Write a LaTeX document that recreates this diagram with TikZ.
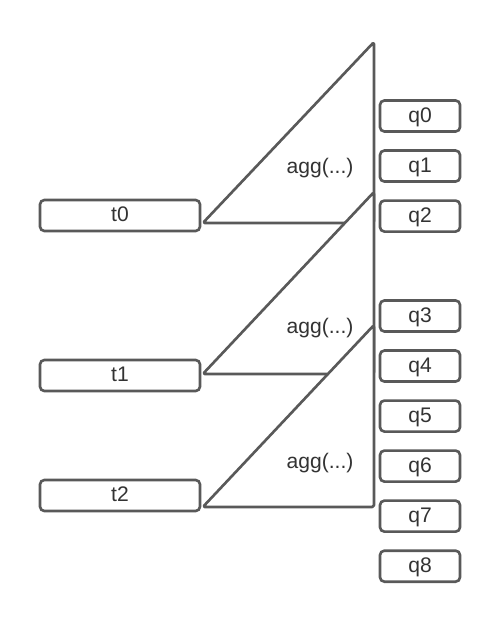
\documentclass[tikz,border=0pt]{standalone}
\usepackage{fontspec}
\setmainfont{Liberation Sans}
\usetikzlibrary{positioning,calc}
\definecolor{linegray}{HTML}{595959}
\definecolor{textgray}{HTML}{333333}
\begin{document}
\begin{tikzpicture}[
    node distance=0.328cm,
    tbox/.style={rectangle, rounded corners=2.5pt, draw=linegray, line width=1.5pt, minimum width=3.2cm, minimum height=0.62cm, inner sep=0pt, text height=0.72em, text depth=0pt, text=textgray, font=\fontsize{12}{14}\selectfont},
    qbox/.style={tbox, minimum width=1.6cm},
    aggtri/.style={draw=linegray, fill=white, line width=1.5pt, rounded corners=1pt, line join=round},
    agglabel/.style={font=\fontsize{12}{14}\selectfont, text=textgray}
]

% Canvas
\useasboundingbox (0,0) rectangle (10,-12.44);

% Inputs (left side)
\node[tbox] (t0) at (2.4,-4.31) {t0};
\node[tbox] (t1) at (2.4,-7.51) {t1};
\node[tbox] (t2) at (2.4,-9.91) {t2};

% Outputs (right side)
\node[qbox] (q0) at (8.4,-2.32) {q0};
\node[qbox, below=of q0] (q1) {q1};
\node[qbox, below=of q1] (q2) {q2};
\node[qbox] (q3) at (8.4,-6.32) {q3};
\foreach \i [count=\j from 3] in {4,...,8}
    \node[qbox, below=of q\j] (q\i) {q\i};

% Corners of the aggregation triangles
\coordinate (v0) at ($(t0.east)+(0.03,-0.15)$);
\coordinate (v1) at ($(t1.east)+(0.03,0.03)$);
\coordinate (v2) at ($(t2.east)+(0.03,-0.23)$);
\coordinate (top0) at (7.48,-0.84);
\coordinate (top1) at (7.48,-3.84);
\coordinate (top2) at (7.48,-6.5);

% Triangles, later ones over earlier ones
\draw[aggtri] (v0) -- (top0) -- (top0 |- v0) -- cycle;
\node[agglabel] at (6.4,-3.36) {agg(...)};
\draw[aggtri] (v1) -- (top1) -- (top1 |- v1) -- cycle;
\node[agglabel] at (6.4,-6.56) {agg(...)};
\draw[aggtri] (v2) -- (top2) -- (top2 |- v2) -- cycle;
\node[agglabel] at (6.4,-9.26) {agg(...)};

\end{tikzpicture}
\end{document}
